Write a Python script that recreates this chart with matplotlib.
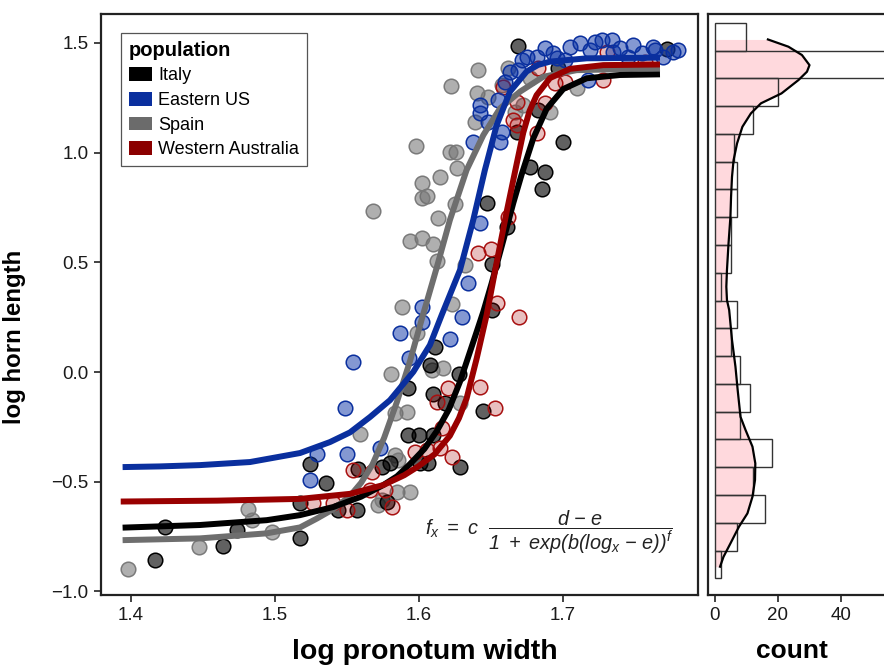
import numpy as np
import matplotlib
matplotlib.use('Agg')
import matplotlib.pyplot as plt
from matplotlib.patches import Patch

plt.rcParams['font.family'] = ['Liberation Sans', 'DejaVu Sans']
plt.rcParams['mathtext.fontset'] = 'custom'
plt.rcParams['mathtext.it'] = 'Liberation Sans:italic'
plt.rcParams['mathtext.rm'] = 'Liberation Sans:italic'

# --- scatter data (log pronotum width, log horn length) ---
italy_x = [1.4238, 1.4169, 1.4639, 1.4736, 1.5176, 1.5176, 1.5245, 1.5356, 1.5442, 1.5569,
           1.5581, 1.5743, 1.5801, 1.5778, 1.5928, 1.6004, 1.5928, 1.6097, 1.6183, 1.6113,
           1.6078, 1.6282, 1.6101, 1.6287, 1.6449, 1.6507, 1.6507, 1.6611, 1.6472, 1.6854,
           1.6877, 1.6773, 1.7004, 1.6681, 1.6831, 1.6692, 1.6969, 1.7722, 1.6009, 1.6067]
italy_y = [-0.708, -0.857, -0.792, -0.720, -0.758, -0.596, -0.419, -0.505, -0.629, -0.629,
           -0.443, -0.432, -0.416, -0.591, -0.287, -0.287, -0.074, -0.102, -0.143, 0.115,
           0.032, -0.010, -0.287, -0.433, -0.176, 0.283, 0.491, 0.660, 0.772, 0.833,
           0.913, 0.934, 1.050, 1.095, 1.194, 1.487, 1.384, 1.472, -0.416, -0.416]

us_x = [1.5245, 1.5292, 1.5504, 1.5488, 1.5546, 1.5731, 1.5935, 1.5870, 1.6021, 1.6021,
        1.6217, 1.6299, 1.6344, 1.6426, 1.6379, 1.6565, 1.6576, 1.6483, 1.6426, 1.6426,
        1.6553, 1.6692, 1.6715, 1.6750, 1.6819, 1.6935, 1.6958, 1.7051, 1.7120, 1.7190,
        1.7271, 1.7340, 1.7351, 1.7456, 1.7549, 1.7629, 1.7641, 1.7699, 1.7768, 1.7178,
        1.6877, 1.7224, 1.7488, 1.6634, 1.6600, 1.7016, 1.7398, 1.7801]
us_y = [-0.492, -0.374, -0.374, -0.165, 0.047, -0.348, 0.062, 0.176, 0.227, 0.298,
        0.150, 0.252, 0.404, 0.680, 1.050, 1.050, 1.095, 1.141, 1.217, 1.179,
        1.240, 1.376, 1.422, 1.437, 1.437, 1.453, 1.430, 1.483, 1.498, 1.468,
        1.513, 1.513, 1.460, 1.437, 1.453, 1.483, 1.468, 1.437, 1.460, 1.331,
        1.477, 1.504, 1.490, 1.367, 1.322, 1.422, 1.477, 1.468]

spain_x = [1.3983, 1.4476, 1.4817, 1.4840, 1.4979, 1.5592, 1.5719, 1.5743, 1.5835, 1.5858,
           1.5847, 1.5940, 1.5806, 1.5835, 1.5917, 1.5882, 1.5986, 1.6090, 1.6171, 1.6287,
           1.6229, 1.6321, 1.6125, 1.6097, 1.6021, 1.5940, 1.6136, 1.6252, 1.6056, 1.6021,
           1.6021, 1.6148, 1.6264, 1.5685, 1.6259, 1.6217, 1.5979, 1.6391, 1.6407, 1.6483,
           1.6224, 1.6414, 1.6622, 1.6576, 1.6726, 1.6669, 1.6773, 1.7097, 1.6912]
spain_y = [-0.899, -0.796, -0.626, -0.675, -0.731, -0.283, -0.606, -0.583, -0.378, -0.401,
           -0.548, -0.548, -0.010, -0.188, -0.181, 0.295, 0.176, 0.009, 0.017, -0.143,
           0.310, 0.488, 0.506, 0.583, 0.609, 0.598, 0.703, 0.764, 0.802, 0.792,
           0.863, 0.890, 0.930, 0.735, 1.001, 1.004, 1.031, 1.138, 1.270, 1.255,
           1.305, 1.376, 1.387, 1.308, 1.217, 1.185, 1.339, 1.293, 1.186]

wa_x = [1.5266, 1.5405, 1.5500, 1.5546, 1.5674, 1.5662, 1.5766, 1.5813, 1.5974, 1.6056,
        1.6148, 1.6229, 1.6160, 1.6125, 1.6206, 1.6426, 1.6530, 1.6699, 1.6542, 1.6414,
        1.6500, 1.6622, 1.6657, 1.6681, 1.6819, 1.6681, 1.6588, 1.6877, 1.6831, 1.6947,
        1.7016, 1.7282, 1.7306, 1.7572]
wa_y = [-0.597, -0.597, -0.629, -0.447, -0.454, -0.538, -0.538, -0.614, -0.363, -0.356,
        -0.348, -0.386, -0.257, -0.138, -0.072, -0.067, -0.163, 0.251, 0.316, 0.544,
        0.559, 0.708, 1.149, 1.126, 1.088, 1.232, 1.300, 1.225, 1.384, 1.316,
        1.323, 1.331, 1.460, 1.413]

# --- fitted curves ---
italy_fit_x = [1.3944, 1.4481, 1.4944, 1.5176, 1.5407, 1.5600, 1.5754, 1.5850, 1.5940, 1.6040,
               1.6125, 1.6210, 1.6287, 1.6403, 1.6449, 1.6507, 1.6588, 1.6657, 1.6715, 1.6796,
               1.6889, 1.7004, 1.7167, 1.7398, 1.7676]
italy_fit_y = [-0.709, -0.697, -0.675, -0.652, -0.615, -0.568, -0.515, -0.475, -0.419, -0.350,
               -0.270, -0.170, -0.044, 0.184, 0.275, 0.405, 0.600, 0.770, 0.900, 1.065,
               1.200, 1.290, 1.339, 1.354, 1.357]
us_fit_x = [1.3944, 1.4200, 1.4481, 1.4829, 1.5176, 1.5384, 1.5523, 1.5662, 1.5801, 1.5963,
            1.6078, 1.6160, 1.6287, 1.6379, 1.6460, 1.6542, 1.6634, 1.6750, 1.6830, 1.6912,
            1.7167, 1.7676]
us_fit_y = [-0.433, -0.430, -0.424, -0.410, -0.369, -0.319, -0.275, -0.205, -0.128, 0.001,
            0.123, 0.260, 0.465, 0.693, 0.921, 1.126, 1.278, 1.370, 1.400, 1.415,
            1.430, 1.433]
spain_fit_x = [1.3944, 1.4481, 1.4944, 1.5176, 1.5292, 1.5407, 1.5523, 1.5600, 1.5680, 1.5760,
               1.5847, 1.5940, 1.6021, 1.6125, 1.6217, 1.6333, 1.6449, 1.6565, 1.6704, 1.6865,
               1.7097, 1.7676]
spain_fit_y = [-0.766, -0.758, -0.735, -0.708, -0.668, -0.625, -0.565, -0.505, -0.420, -0.300,
               -0.140, 0.050, 0.240, 0.475, 0.693, 0.921, 1.080, 1.202, 1.278, 1.346,
               1.376, 1.384]
wa_fit_x = [1.3931, 1.4600, 1.5176, 1.5523, 1.5754, 1.5900, 1.5997, 1.6110, 1.6217, 1.6280,
            1.6333, 1.6403, 1.6472, 1.6542, 1.6611, 1.6681, 1.6726, 1.6770, 1.6819, 1.6912,
            1.7051, 1.7282, 1.7676]
wa_fit_y = [-0.590, -0.586, -0.578, -0.555, -0.515, -0.470, -0.430, -0.375, -0.290, -0.210,
            -0.120, 0.062, 0.260, 0.500, 0.730, 0.950, 1.090, 1.190, 1.262, 1.340,
            1.382, 1.399, 1.402]

# --- marginal histogram of horn length (bottom to top) ---
hist_lo = -0.940
hist_bw = 0.1266
hist_counts = [2, 7, 16, 12, 18, 8, 11, 8, 5, 7, 2, 5, 5, 7, 7, 6, 12, 20, 60, 10]
dens_y = [-0.887, -0.842, -0.781, -0.705, -0.644, -0.568, -0.492, -0.416, -0.340, -0.264,
          -0.204, -0.082, 0.024, 0.146, 0.283, 0.328, 0.389, 0.465, 0.587, 0.708,
          0.799, 0.890, 0.966, 1.042, 1.118, 1.179, 1.225, 1.270, 1.331, 1.369,
          1.399, 1.445, 1.483, 1.516]
dens_c = [1.6, 2.7, 4.9, 7.6, 10.3, 11.9, 12.7, 12.8, 11.9, 9.7,
          8.1, 7.2, 6.5, 5.4, 4.5, 3.8, 3.6, 3.8, 4.3, 4.9,
          5.1, 5.4, 5.9, 7.0, 8.7, 11.4, 14.6, 21.1, 26.5, 29.2,
          30.0, 27.6, 23.3, 16.8]

labels = ['Italy', 'Eastern US', 'Spain', 'Western Australia']
line_cols = ['#000000', '#0a2f9e', '#6e6e6e', '#990000']
legend_cols = ['#000000', '#0a2f9e', '#6b6b6b', '#8b0000']

fig = plt.figure(figsize=(8.84, 6.65), dpi=100)
ax = fig.add_axes([101 / 884, 1 - 595 / 665, 597 / 884, 581 / 665])
axh = fig.add_axes([708 / 884, 1 - 595 / 665, 176 / 884, 581 / 665])

# points
pt = 110
ax.scatter(spain_x, spain_y, s=pt, facecolors=[(0.43, 0.43, 0.43, 0.55)],
           edgecolors='#7a7a7a', linewidths=1.1, zorder=2)
ax.scatter(italy_x, italy_y, s=pt, facecolors=[(0.0, 0.0, 0.0, 0.62)],
           edgecolors='#000000', linewidths=1.1, zorder=2)
ax.scatter(wa_x, wa_y, s=pt, facecolors=[(0.65, 0.0, 0.0, 0.25)],
           edgecolors='#a81010', linewidths=1.1, zorder=2)
ax.scatter(us_x, us_y, s=pt, facecolors=[(0.04, 0.2, 0.65, 0.5)],
           edgecolors='#0a2f9e', linewidths=1.1, zorder=2)

# fitted curves
for fx, fy, c in [(spain_fit_x, spain_fit_y, line_cols[2]),
                  (italy_fit_x, italy_fit_y, line_cols[0]),
                  (wa_fit_x, wa_fit_y, line_cols[3]),
                  (us_fit_x, us_fit_y, line_cols[1])]:
    ax.plot(fx, fy, color=c, lw=4.3, solid_capstyle='butt', solid_joinstyle='round', zorder=3)

ax.set_xlim(1.3794, 1.794)
ax.set_ylim(-1.016, 1.632)
ax.set_xticks([1.4, 1.5, 1.6, 1.7])
ax.set_yticks([-1.0, -0.5, 0.0, 0.5, 1.0, 1.5])
ax.set_xticklabels(['1.4', '1.5', '1.6', '1.7'])
ax.set_yticklabels(['\u22121.0', '\u22120.5', '0.0', '0.5', '1.0', '1.5'])
ax.set_xlabel('log pronotum width', fontsize=20.5, fontweight='bold')
ax.xaxis.set_label_coords(0.543, -0.075)
ax.set_ylabel('log horn length', fontsize=17.3, fontweight='bold')
ax.yaxis.set_label_coords(-0.125, 0.444)

handles = [Patch(facecolor=c, edgecolor='none') for c in legend_cols]
leg = ax.legend(handles, labels, title='population', loc='upper left',
                bbox_to_anchor=(0.034, 0.967), borderaxespad=0, fontsize=13,
                title_fontproperties={'weight': 'bold', 'size': 14.5},
                alignment='left', frameon=True, fancybox=False, framealpha=1,
                edgecolor='#555555', handlelength=1.26, handleheight=0.78,
                handletextpad=0.37, labelspacing=0.42, borderpad=0.42)
leg.get_frame().set_linewidth(0.9)

ax.text(0.750, 0.108,
        r'$f_x\ =\ c\ \ \dfrac{d\ \mathrm{-}\ e}{1\ +\ exp(b(log_x\ \mathrm{-}\ e))^f}$',
        transform=ax.transAxes, fontsize=14.3, ha='center', va='center', color='#222222')

# marginal histogram
edges = hist_lo + hist_bw * np.arange(len(hist_counts))
axh.fill_betweenx(dens_y, 0, dens_c, color='#ffd9dd', lw=0, zorder=1)
axh.barh(edges, hist_counts, height=hist_bw, align='edge', facecolor='none',
         edgecolor='#333333', linewidth=1.0, zorder=2)
axh.plot(dens_c, dens_y, color='black', lw=1.6, zorder=3)
axh.set_ylim(-1.016, 1.632)
axh.set_xlim(-2.22, 53.65)
axh.set_xticks([0, 20, 40])
axh.set_yticks([])
axh.set_xlabel('count', fontsize=19, fontweight='bold')
axh.xaxis.set_label_coords(0.477, -0.075)
axh.spines['right'].set_visible(False)

for a in (ax, axh):
    for sp in a.spines.values():
        sp.set_linewidth(1.6)
        sp.set_color('#222222')
    a.tick_params(axis='both', labelsize=13.5, length=5, width=1.2, color='#222222',
                  labelcolor='#1a1a1a', pad=4)

fig.savefig('out.png', dpi=100)
